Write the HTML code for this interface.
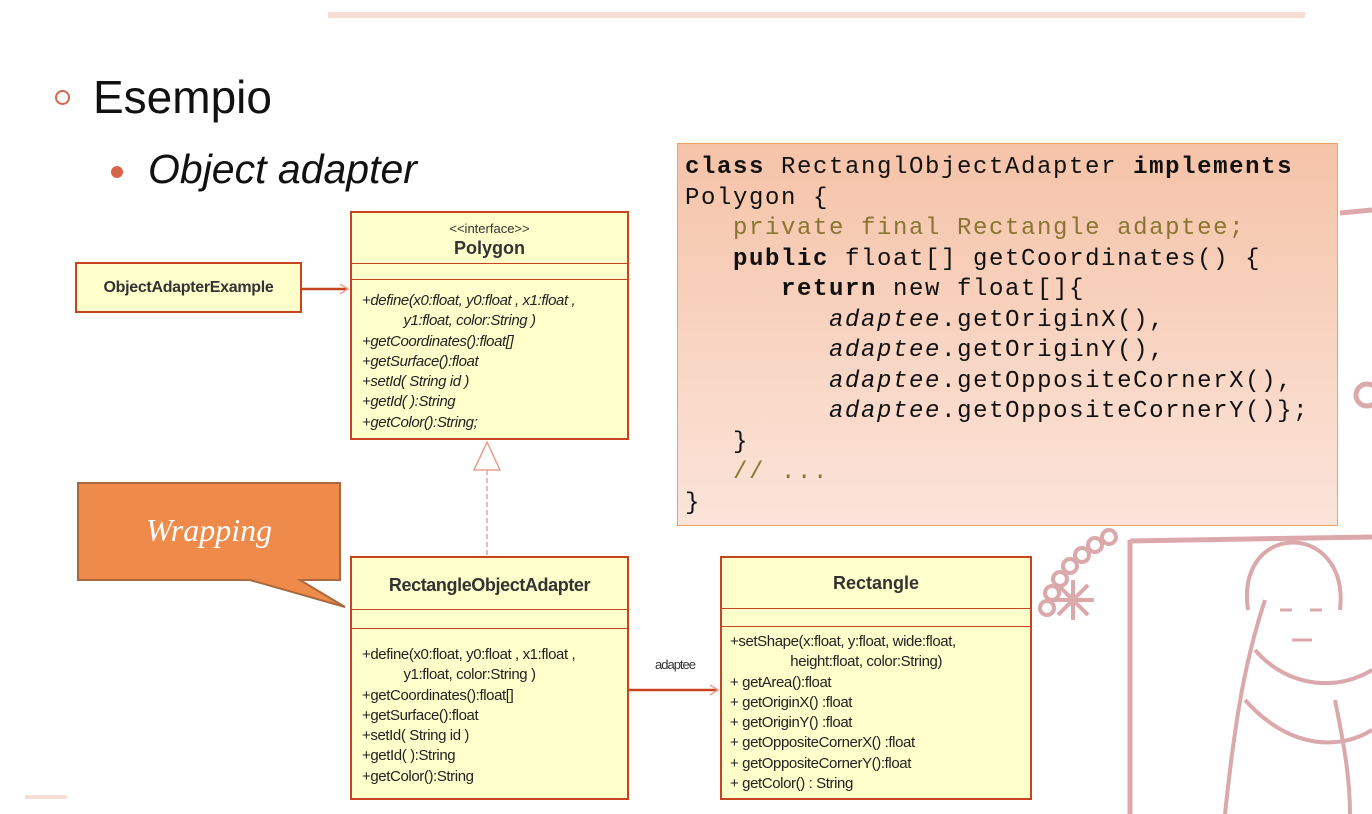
<!DOCTYPE html>
<html><head><meta charset="utf-8"><style>
body{margin:0;width:1372px;height:814px;position:relative;background:#fff;overflow:hidden;font-family:"Liberation Sans",sans-serif}
.a{position:absolute}
.box{position:absolute;background:#ffffcc;border:2px solid #c8431f;box-sizing:border-box}
.hl{position:absolute;left:0;right:0;border-top:1.5px solid #c8431f}
.m{position:absolute;font-size:15px;letter-spacing:-0.4px;color:#222;line-height:20.3px;white-space:pre}
.code{position:absolute;left:677px;top:143px;width:661px;height:383px;box-sizing:border-box;border:1.5px solid #f0a060;background:linear-gradient(#f5c3a8,#fbe4da);font-family:"Liberation Mono",monospace;font-size:24px;letter-spacing:1.6px;line-height:30.5px;white-space:pre;padding:9px 0 0 7px;color:#111}
.o{color:#8a7530}
</style></head><body>
<div class="a" style="left:328px;top:12px;width:977px;height:6px;background:#f8ddd5"></div>
<div class="a" style="left:25px;top:795px;width:42px;height:4px;background:#f8ddd5"></div>
<svg class="a" style="left:0;top:0" width="1372" height="814" fill="none" stroke="#dba8ac" stroke-width="5">
<path d="M1340 213 L1372 210"/><circle cx="1367" cy="395" r="11"/>
<path d="M1130 540 L1130 814 M1130 541 L1372 537"/>
<g stroke-width="4"><circle cx="1047" cy="608" r="7"/><circle cx="1052" cy="593" r="7"/><circle cx="1060" cy="579" r="7"/><circle cx="1070" cy="566" r="7"/><circle cx="1082" cy="555" r="7"/><circle cx="1095" cy="545" r="7"/><circle cx="1109" cy="537" r="7"/></g>
<path d="M1052 600 L1094 600 M1073 580 L1073 620 M1058 585 L1088 615 M1088 585 L1058 615" stroke-width="4"/>
<path d="M1248 610 C1235 520 1350 520 1340 610" stroke-width="4"/>
<path d="M1265 600 C1245 660 1235 720 1225 814 M1255 650 C1290 690 1340 690 1372 670 M1245 700 C1290 750 1340 750 1372 730 M1335 700 C1345 750 1350 780 1350 814" stroke-width="4"/>
<path d="M1280 610 L1292 610 M1310 610 L1322 610 M1292 640 L1312 640" stroke-width="3"/>
</svg>
<div class="a" style="left:55px;top:90px;width:11px;height:11px;border:2px solid #d9664a;border-radius:50%"></div>
<div class="a" style="left:93px;top:70px;font-size:46px;color:#111">Esempio</div>
<div class="a" style="left:111px;top:166px;width:12px;height:12px;background:#d9664a;border-radius:50%"></div>
<div class="a" style="left:148px;top:146px;font-size:41px;font-style:italic;color:#111">Object adapter</div>
<div class="code"><b>class</b> RectanglObjectAdapter <b>implements</b>
Polygon {
   <span class="o">private final Rectangle adaptee;</span>
   <b>public</b> float[] getCoordinates() {
      <b>return</b> new float[]{
         <i>adaptee</i>.getOriginX(),
         <i>adaptee</i>.getOriginY(),
         <i>adaptee</i>.getOppositeCornerX(),
         <i>adaptee</i>.getOppositeCornerY()};
   }
   <span class="o">// ...</span>
}</div>
<svg class="a" style="left:0;top:0" width="1372" height="814">
<line x1="302" y1="289" x2="348" y2="289" stroke="#c8431f" stroke-width="2.5"/>
<path d="M340 284 L348 289 L340 294" fill="none" stroke="#e8a090" stroke-width="1.5"/>
<line x1="487" y1="470" x2="487" y2="556" stroke="#e8a090" stroke-width="1.5" stroke-dasharray="5 3"/>
<path d="M474 470 L487 442 L500 470 Z" fill="#fff" stroke="#e8a090" stroke-width="1.5"/>
<line x1="629" y1="690" x2="718" y2="690" stroke="#c8431f" stroke-width="2.5"/>
<path d="M710 685 L718 690 L710 695" fill="none" stroke="#e8a090" stroke-width="1.5"/>
<path d="M78 483 L340 483 L340 580 L300 580 L345 607 L250 580 L78 580 Z" fill="#ee8b4b" stroke="#a9683e" stroke-width="2"/>
</svg>
<div class="a" style="left:78px;top:512px;width:262px;text-align:center;font-family:'Liberation Serif',serif;font-style:italic;font-size:32px;color:#fff">Wrapping</div>
<div class="a" style="left:655px;top:657px;font-size:13px;letter-spacing:-1px;color:#333">adaptee</div>
<div class="box" style="left:75px;top:262px;width:227px;height:51px"><div class="a" style="left:0;right:0;top:15px;text-align:center;font-weight:bold;font-size:16px;letter-spacing:-0.3px;color:#333">ObjectAdapterExample</div></div>
<div class="box" style="left:350px;top:211px;width:279px;height:229px">
<div class="a" style="left:0;right:0;top:8px;text-align:center;font-size:13px;color:#333">&lt;&lt;interface&gt;&gt;</div>
<div class="a" style="left:0;right:0;top:25px;text-align:center;font-size:18px;font-weight:bold;color:#333">Polygon</div>
<div class="hl" style="top:50px"></div><div class="hl" style="top:66px"></div>
<div class="m" style="left:10px;top:78px;font-style:italic">+define(x0:float, y0:float , x1:float ,
           y1:float, color:String )
+getCoordinates():float[]
+getSurface():float
+setId( String id )
+getId( ):String
+getColor():String;</div></div>
<div class="box" style="left:350px;top:556px;width:279px;height:244px">
<div class="a" style="left:0;right:0;top:17px;text-align:center;font-size:18px;font-weight:bold;letter-spacing:-0.4px;color:#333">RectangleObjectAdapter</div>
<div class="hl" style="top:51px"></div><div class="hl" style="top:70px"></div>
<div class="m" style="left:10px;top:87px">+define(x0:float, y0:float , x1:float ,
           y1:float, color:String )
+getCoordinates():float[]
+getSurface():float
+setId( String id )
+getId( ):String
+getColor():String</div></div>
<div class="box" style="left:720px;top:556px;width:312px;height:244px">
<div class="a" style="left:0;right:0;top:15px;text-align:center;font-size:18px;font-weight:bold;color:#333">Rectangle</div>
<div class="hl" style="top:50px"></div><div class="hl" style="top:68px"></div>
<div class="m" style="left:8px;top:74px">+setShape(x:float, y:float, wide:float,
                height:float, color:String)
+ getArea():float
+ getOriginX() :float
+ getOriginY() :float
+ getOppositeCornerX() :float
+ getOppositeCornerY():float
+ getColor() : String</div></div>
</body></html>
